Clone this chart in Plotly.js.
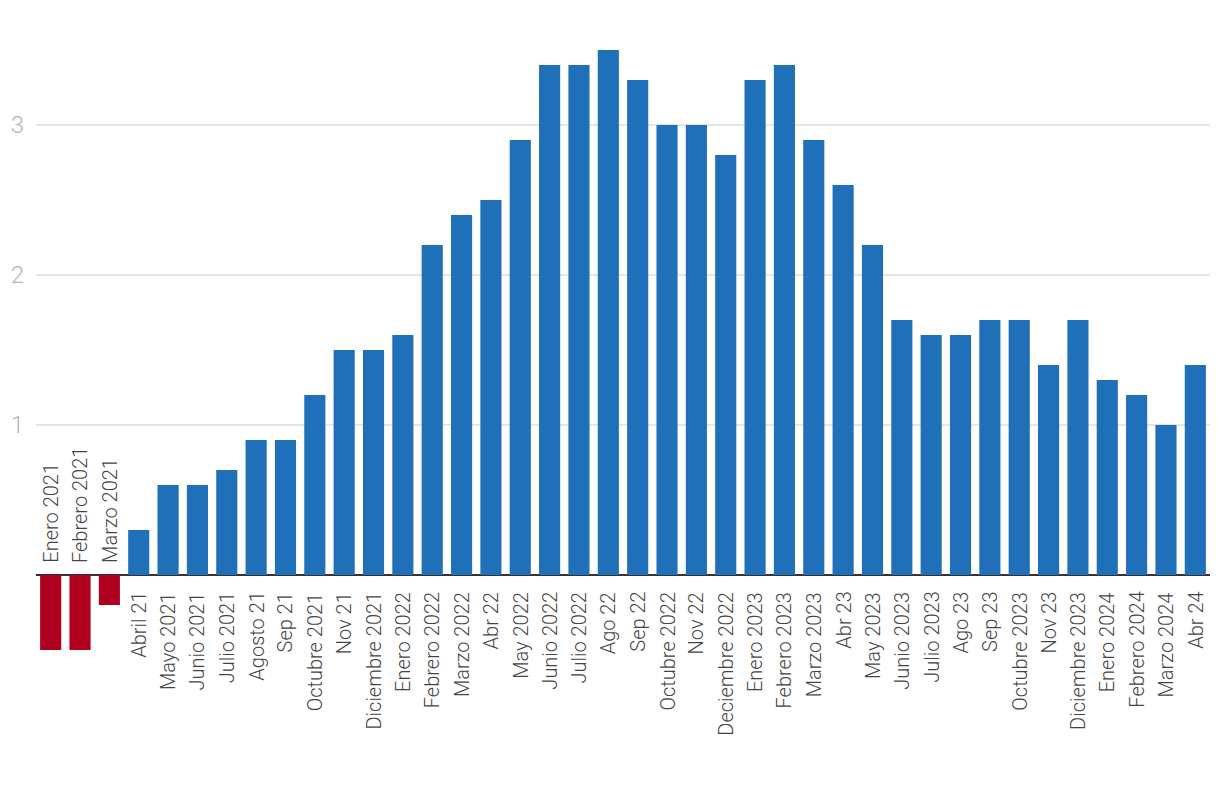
<!DOCTYPE html>
<html>
<head>
<meta charset="utf-8">
<script src="https://cdn.plot.ly/plotly-3.0.1.min.js"></script>
<style>html,body{margin:0;padding:0;background:#fff;}#chart{width:1220px;height:808px;}</style>
</head>
<body>
<div id="chart"></div>
<script>
const categories = [
  "Enero 2021","Febrero 2021","Marzo 2021","Abril 21","Mayo 2021","Junio 2021","Julio 2021","Agosto 21","Sep 21","Octubre 2021",
  "Nov 21","Diciembre 2021","Enero 2022","Febrero 2022","Marzo 2022","Abr 22","May 2022","Junio 2022","Julio 2022","Ago 22",
  "Sep 22","Octubre 2022","Nov 22","Deciembre 2022","Enero 2023","Febrero 2023","Marzo 2023","Abr 23","May 2023","Junio 2023",
  "Julio 2023","Ago 23","Sep 23","Octubre 2023","Nov 23","Diciembre 2023","Enero 2024","Febrero 2024","Marzo 2024","Abr 24"
];
const values = [
  -0.5,-0.5,-0.2,0.3,0.6,0.6,0.7,0.9,0.9,1.2,
  1.5,1.5,1.6,2.2,2.4,2.5,2.9,3.4,3.4,3.5,
  3.3,3.0,3.0,2.8,3.3,3.4,2.9,2.6,2.2,1.7,
  1.6,1.6,1.7,1.7,1.4,1.7,1.3,1.2,1.0,1.4
];
const yTicks = [1, 2, 3];
const POS = "#2070b9", NEG = "#b0001f";

const colors = values.map(v => v < 0 ? NEG : POS);
const annotations = categories.map((c, i) => {
  const neg = values[i] < 0;
  return {
    x: c, y: 0, xref: "x", yref: "y",
    text: c, showarrow: false, textangle: -90,
    xanchor: "center", yanchor: neg ? "bottom" : "top",
    yshift: neg ? 10 : -15,
    font: {family: "Roboto, sans-serif", size: 20, color: "#444", weight: 300}
  };
});

Plotly.newPlot("chart", [{
  type: "bar", x: categories, y: values,
  marker: {color: colors, line: {width: 0}},
  hoverinfo: "x+y"
}], {
  width: 1220, height: 808,
  margin: {l: 36, r: 10, t: 20, b: 23},
  paper_bgcolor: "#fff", plot_bgcolor: "#fff",
  bargap: 0.28,
  showlegend: false,
  xaxis: {showticklabels: false, showgrid: false, zeroline: false, showline: false, ticks: ""},
  yaxis: {
    range: [-1.4, 3.7], tickvals: yTicks, ticktext: yTicks.map(String),
    showgrid: true, gridcolor: "#e6e6e6", gridwidth: 2,
    zeroline: true, zerolinecolor: "#333", zerolinewidth: 2,
    ticks: "", ticklabelstandoff: 11,
    tickfont: {family: "Roboto, sans-serif", size: 24, color: "#b5b5b5", weight: 300}
  },
  annotations: annotations
}, {displayModeBar: false, staticPlot: true});
</script>
</body>
</html>
